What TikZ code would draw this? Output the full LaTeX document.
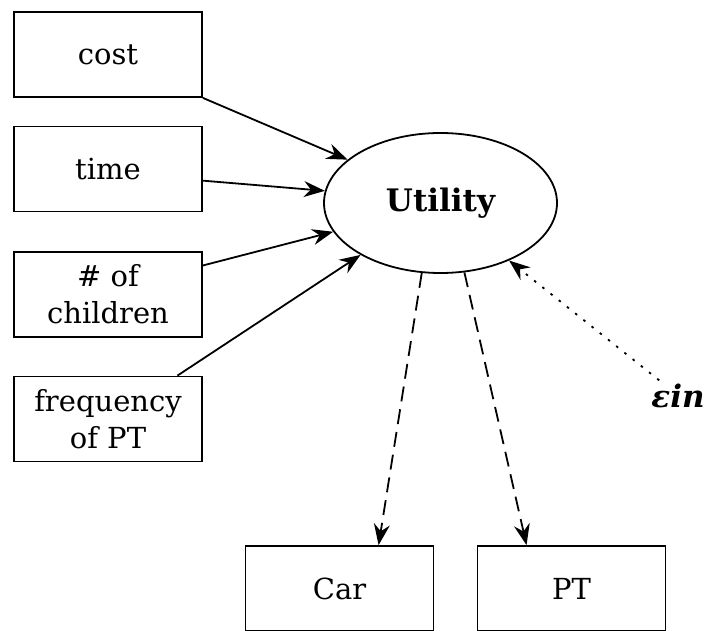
\documentclass[tikz,border=0pt]{standalone}
\usepackage{fontspec}
\usepackage{tikz}
\setmainfont{DejaVu Serif}
\usetikzlibrary{arrows.meta}
\usetikzlibrary{positioning}
\usetikzlibrary{shapes.geometric}

\tikzset{
  varbox/.style={draw, line width=1.8pt, minimum width=188pt, minimum height=85pt,
    inner sep=2pt, align=center, font=\fontsize{29}{37}\selectfont},
  linkarr/.style={line width=1.8pt, -{Stealth[length=21pt,width=16pt,inset=7pt]}},
}

\begin{document}
\begin{tikzpicture}[x=1pt, y=-1pt]
    \useasboundingbox (0, 0) rectangle (707, 631);

    \node [varbox] (cost) at (108, 54.5) {cost};
    \node [varbox] (time) at (108, 169) {time};
    \node [varbox] (children) at (108, 294.5) {\# of\\children};
    \node [varbox] (freq) at (108, 419) {frequency\\of PT};

    \node [draw, ellipse, line width=1.8pt, minimum width=233pt, minimum height=140pt,
      inner sep=0pt, font=\fontsize{31}{37}\selectfont\bfseries] (util) at (440.5, 203) {Utility};

    \node [varbox] (car) at (339.5, 588.5) {Car};
    \node [varbox] (pt) at (571.5, 588.5) {PT};

    \node [font=\fontsize{31}{37}\selectfont\bfseries\itshape, inner sep=1pt] (eps) at (678, 396) {εin};

    % observed variables
    \draw [linkarr] (cost.south east) -- (util.155.8);
    \draw [linkarr] (time.353) -- (util.174.2);
    \draw [linkarr] (children.17) -- (util.195.5);
    \draw [linkarr] (freq.32) -- (util.213.2);

    % error term
    \draw [linkarr, dash pattern=on 2.5pt off 8pt, shorten <=4pt] (eps.140) -- (util.320.5);

    % choices
    \draw [linkarr, dash pattern=on 15pt off 8pt] (util.255.2) -- (car.48);
    \draw [linkarr, dash pattern=on 15pt off 8pt] (util.289.3) -- (pt.136);
  \end{tikzpicture}
\end{document}
